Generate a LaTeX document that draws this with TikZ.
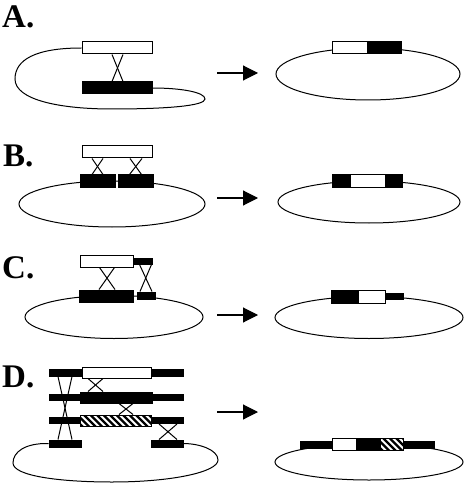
\documentclass[tikz,border=0pt]{standalone}
\usepackage{fontspec}
\setmainfont{Liberation Serif}
\usetikzlibrary{arrows.meta,calc}
\tikzset{
  lw/.style={line width=1pt},
  wbox/.style={draw=black, fill=white, lw, inner sep=0pt, minimum width=#1, minimum height=12pt},
  bbox/.style={draw=black, fill=black, lw, inner sep=0pt, minimum width=#1, minimum height=12pt},
  tbar/.style={draw=black, fill=black, lw, inner sep=0pt, minimum width=#1, minimum height=6pt},
  hbox/.style={draw=black, fill=white, lw, inner sep=0pt, minimum width=#1, minimum height=11pt,
    path picture={\foreach \i in {-18,-11.5,...,80}
      \draw[line width=2.4pt] ([xshift=\i pt, yshift=2pt]path picture bounding box.north west) -- ++(16,16);}},
  lbl/.style={font=\fontsize{33}{33}\selectfont\bfseries, anchor=base west, inner sep=0pt},
  xline/.style={lw},
  loopline/.style={lw},
  conv/.style={line width=1.1pt, -{Triangle[length=15pt,width=15pt]}},
}
\begin{document}
\begin{tikzpicture}[x=1pt,y=-1pt]
\useasboundingbox[fill=white] (0,0) rectangle (466,486);

% ---------------- Panel A ----------------
\node[lbl] (LA) at (2,28) {A.};
\node[wbox=70pt] (Aw) at (117,48) {};
\node[bbox=70pt] (Ab) at (117,88) {};
\draw[loopline] (Aw.west) .. controls (35,48) and (15,60) .. (15,79)
  .. controls (15,100) and (60,109) .. (112,109)
  .. controls (165,109) and (205,106) .. (205,99)
  .. controls (205,92) and (180,88) .. (Ab.east);
\node[wbox=70pt] at (117,48) {};
\node[bbox=70pt] at (117,88) {};
\draw[xline] ($(Aw.south)+(-5,0)$) -- ($(Ab.north)+(6,0)$);
\draw[xline] ($(Aw.south)+(6,0)$) -- ($(Ab.north)+(-5,0)$);
\coordinate (aA1) at (217,73); \coordinate (aA2) at (258,73);
\draw[conv] (aA1) -- (aA2);
\draw[loopline] (368,74) ellipse [x radius=92pt, y radius=26pt];
\node[wbox=35pt] (ARw) at (349.5,48) {};
\node[bbox=34pt] (ARb) at (384,48) {};

% ---------------- Panel B ----------------
\node[lbl] (LB) at (3,167) {B.};
\draw[loopline] (112,204) ellipse [x radius=93pt, y radius=23pt];
\node[wbox=70pt] (Bw) at (117,152) {};
\node[bbox=35pt] (Bb1) at (97.5,181) {};
\node[bbox=35pt] (Bb2) at (135.5,181) {};
\draw[xline] ($(Bw.south)+(-25,0)$) -- ($(Bb1.north)+(5.5,0)$);
\draw[xline] ($(Bw.south)+(-14,0)$) -- ($(Bb1.north)+(-5.5,0)$);
\draw[xline] ($(Bw.south)+(13,0)$) -- ($(Bb2.north)+(6,0)$);
\draw[xline] ($(Bw.south)+(25,0)$) -- ($(Bb2.north)+(-6,0)$);
\coordinate (aB1) at (217,198); \coordinate (aB2) at (258,198);
\draw[conv] (aB1) -- (aB2);
\draw[loopline] (369,202) ellipse [x radius=91pt, y radius=21pt];
\node[bbox=18pt, minimum height=13pt] (BR1) at (341,181) {};
\node[wbox=35pt, minimum height=13pt] (BR2) at (367.5,181) {};
\node[bbox=17pt, minimum height=13pt] (BR3) at (393.5,181) {};

% ---------------- Panel C ----------------
\node[lbl] (LC) at (2,278) {C.};
\draw[loopline] (114,317) ellipse [x radius=89pt, y radius=21.5pt];
\node[wbox=53pt] (Cw) at (106.5,261) {};
\node[tbar=19pt] (Ct) at (142.5,261) {};
\node[bbox=54pt] (Cb) at (106,296) {};
\node[tbar=18pt, minimum height=7pt] (Cs) at (146,295.5) {};
\draw[xline] ($(Cw.south)+(-7,0)$) -- ($(Cb.north)+(9,0)$);
\draw[xline] ($(Cw.south)+(8,0)$) -- ($(Cb.north)+(-7,0)$);
\draw[xline] ($(Ct.south)+(-3,0)$) -- ($(Cs.north)+(6,0)$);
\draw[xline] ($(Ct.south)+(9,0)$) -- ($(Cs.north)+(-6,0)$);
\coordinate (aC1) at (217,315); \coordinate (aC2) at (258,315);
\draw[conv] (aC1) -- (aC2);
\draw[loopline] (369,317.5) ellipse [x radius=94pt, y radius=21pt];
\node[bbox=27pt, minimum height=13pt] (CR1) at (344.5,296.5) {};
\node[wbox=27pt, minimum height=13pt] (CR2) at (371.5,296.5) {};
\node[tbar=18pt] (CR3) at (394,296.5) {};

% ---------------- Panel D ----------------
\node[lbl] (LD) at (2,387) {D.};
\node[tbar=32pt, minimum height=7pt] (D1L) at (65,372.5) {};
\node[tbar=32pt, minimum height=7pt] (D4L) at (65,443.5) {};
\draw[xline] ($(D1L.south)+(-7,0)$) -- ($(D4L.north)+(7,0)$);
\draw[xline] ($(D1L.south)+(7,0)$) -- ($(D4L.north)+(-7,0)$);
\draw[loopline] (D4L.west) .. controls (25,443) and (13,452) .. (13,463)
  .. controls (13,476) and (60,482) .. (112,482)
  .. controls (172,482) and (218,472) .. (218,460)
  .. controls (218,450) and (200,443.5) .. (183,443.5);
% row 1
\node[tbar=32pt, minimum height=7pt] at (65,372.5) {};
\node[wbox=69pt, minimum height=11pt] (D1w) at (116.5,372.5) {};
\node[tbar=32pt, minimum height=7pt] (D1R) at (167,372.5) {};
% row 2
\node[tbar=32pt] (D2L) at (65,397.5) {};
\node[bbox=72pt, minimum height=11pt] (D2b) at (116,397.5) {};
\node[tbar=32pt] (D2R) at (167,397.5) {};
% row 3
\node[tbar=32pt] (D3L) at (65,420.5) {};
\node[hbox=71pt] (D3h) at (116,420.5) {};
\node[tbar=32pt] (D3R) at (167,420.5) {};
% row 4
\node[tbar=32pt, minimum height=7pt] at (65,443.5) {};
\node[tbar=32pt, minimum height=7pt] (D4R) at (167,443.5) {};
% crosses
\draw[xline] ($(D1w.south)+(-28.5,0)$) -- ($(D2b.north)+(-13,0)$);
\draw[xline] ($(D1w.south)+(-13.5,0)$) -- ($(D2b.north)+(-28,0)$);
\draw[xline] ($(D2b.south)+(3,0)$) -- ($(D3h.north)+(17,0)$);
\draw[xline] ($(D2b.south)+(17,0)$) -- ($(D3h.north)+(3,0)$);
\draw[xline] ($(D3R.south)+(-8,0)$) -- ($(D4R.north)+(10,0)$);
\draw[xline] ($(D3R.south)+(10,0)$) -- ($(D4R.north)+(-8,0)$);
\coordinate (aD1) at (217,412); \coordinate (aD2) at (258,412);
\draw[conv] (aD1) -- (aD2);
\draw[loopline] (369,462) ellipse [x radius=94pt, y radius=18pt];
\node[tbar=32pt, minimum height=7pt] (DR1) at (316,444.5) {};
\node[wbox=24pt] (DR2) at (344,444.5) {};
\node[bbox=24pt] (DR3) at (368,444.5) {};
\node[hbox=23pt, minimum height=12pt] (DR4) at (391.5,444.5) {};
\node[tbar=31pt, minimum height=7pt] (DR5) at (418.5,444.5) {};
\end{tikzpicture}
\end{document}
